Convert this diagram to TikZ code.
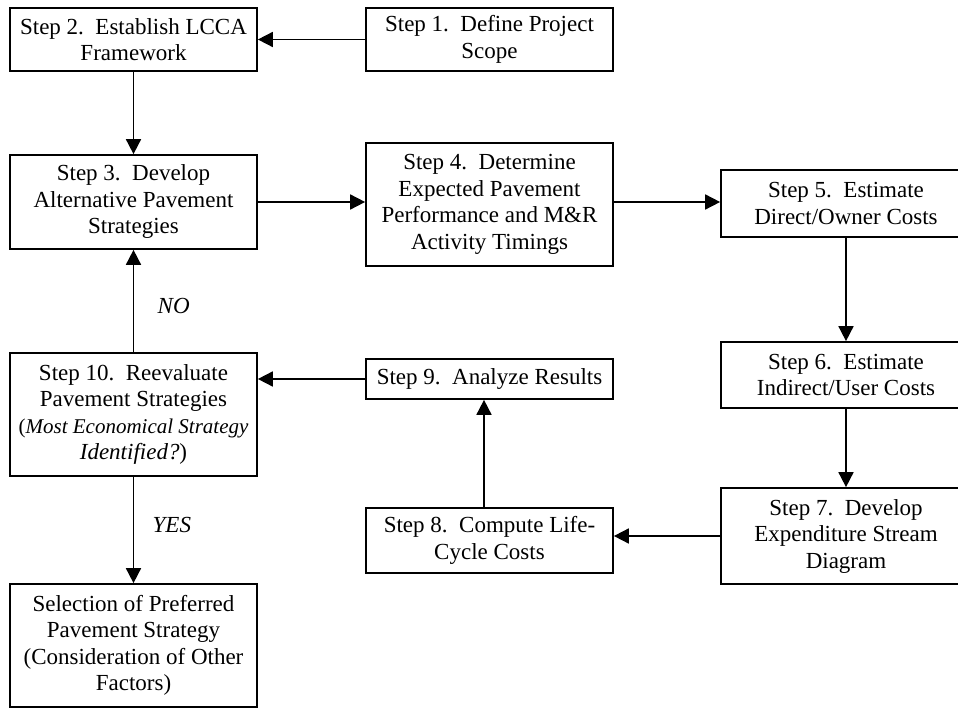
\documentclass[tikz,border=0pt]{standalone}
\usepackage{fontspec}
\setmainfont{Liberation Serif}
\usetikzlibrary{arrows.meta}
\begin{document}
\begin{tikzpicture}[x=1pt,y=-1pt,
 box/.style={draw,line width=1.7pt,rectangle,inner sep=0pt,align=center,font=\fontsize{23}{26.5}\selectfont},
 arr/.style={line width=1.7pt,-{Triangle[length=15pt,width=15pt]}},
 lbl/.style={font=\fontsize{23}{26.5}\selectfont\itshape}]
\useasboundingbox (0,0) rectangle (958,708);
\node[box,minimum width=247pt,minimum height=63pt] (s2) at (133.5,39.5) {Step 2.\ \ Establish LCCA\\Framework};
\node[box,minimum width=247pt,minimum height=63pt] (s1) at (489.5,39.5) {Step 1.\ \ Define Project\\Scope};
\node[box,minimum width=247pt,minimum height=94pt] (s3) at (133.5,202) {Step 3.\ \ Develop\\Alternative Pavement\\Strategies};
\node[box,minimum width=247pt,minimum height=123pt] (s4) at (489.5,204.5) {Step 4.\ \ Determine\\Expected Pavement\\Performance and M\&R\\Activity Timings};
\node[box,minimum width=250pt,minimum height=67pt] (s5) at (846,203.5) {Step 5.\ \ Estimate\\Direct/Owner Costs};
\node[box,minimum width=250pt,minimum height=66pt] (s6) at (846,375) {Step 6.\ \ Estimate\\Indirect/User Costs};
\node[box,minimum width=250pt,minimum height=96pt] (s7) at (846,536) {Step 7.\ \ Develop\\Expenditure Stream\\Diagram};
\node[box,minimum width=247pt,minimum height=65pt] (s8) at (489.5,540.5) {Step 8.\ \ Compute Life-\\Cycle Costs};
\node[box,minimum width=247pt,minimum height=40pt] (s9) at (489.5,379) {Step 9.\ \ Analyze Results};
\node[box,minimum width=247pt,minimum height=123pt] (s10) at (133.5,414.5) {Step 10.\ \ Reevaluate\\Pavement Strategies\\{\fontsize{21}{26.5}\selectfont(\textit{Most Economical Strategy}}\\\textit{Identified?})};
\node[box,minimum width=247pt,minimum height=123pt] (s11) at (133.5,645.5) {Selection of Preferred\\Pavement Strategy\\(Consideration of Other\\Factors)};
\draw[arr] (s1.west) -- (s2.east);
\draw[arr] (s2.south) -- (s3.north);
\draw[arr] (s3.east) -- (s3.east -| s4.west);
\draw[arr] (s3.east -| s4.east) -- (s3.east -| s5.west);
\draw[arr] (s5.south) -- (s6.north);
\draw[arr] (s6.south) -- (s7.north);
\draw[arr] (s7.west) -- (s7.west -| s8.east);
\draw[arr] ([xshift=-5.5pt]s8.north) -- ([xshift=-5.5pt]s9.south);
\draw[arr] (s9.west) -- (s9.west -| s10.east);
\draw[arr] (s10.north) -- node[lbl,right=20pt,pos=0.45] (no) {NO} (s3.south);
\draw[arr] (s10.south) -- node[lbl,right=15pt,pos=0.45] (yes) {YES} (s11.north);
\end{tikzpicture}
\end{document}
